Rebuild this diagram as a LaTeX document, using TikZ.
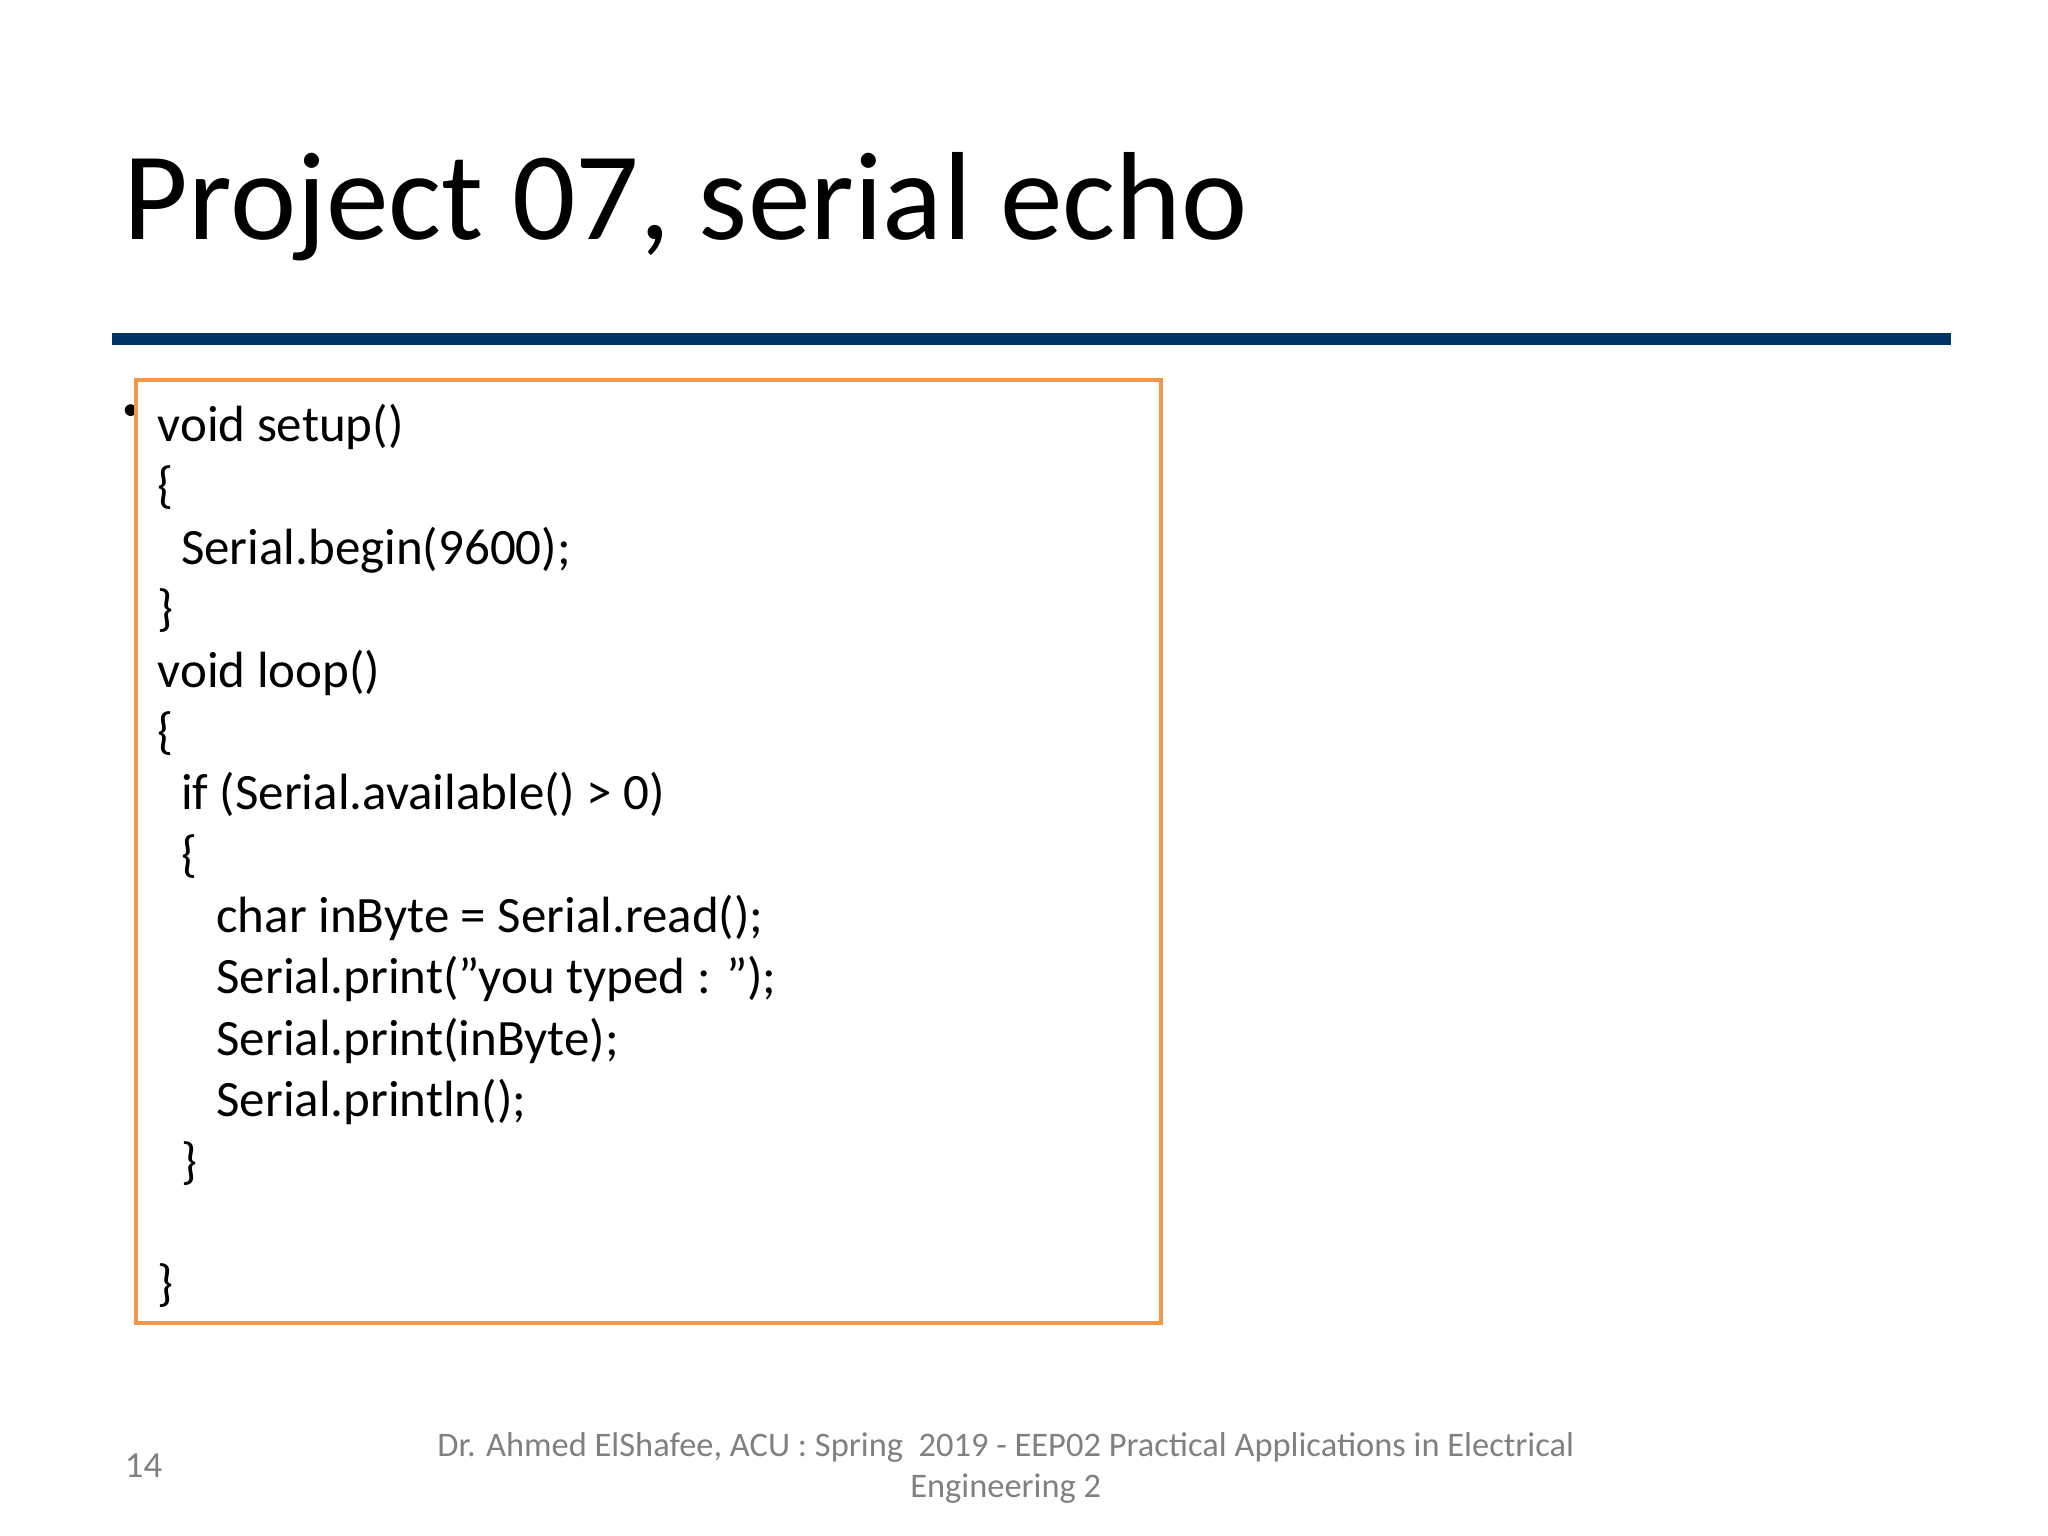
\documentclass[tikz,border=0pt]{standalone}
\usepackage{fontspec}
\setmainfont{Carlito}
\definecolor{barblue}{RGB}{0,51,102}
\definecolor{boxorange}{RGB}{245,150,70}
\definecolor{footgray}{RGB}{128,128,128}
\newcommand{\dq}{\symbol{34}}
\begin{document}
\begin{tikzpicture}[x=0.01cm,y=-0.01cm,
  code/.style={anchor=base west,inner sep=0pt,font=\fontsize{11.1pt}{13.4pt}\selectfont}]
\useasboundingbox (0,0) rectangle (1568,1176);
\node[anchor=base west,inner sep=0pt,font=\fontsize{27.3pt}{32pt}\selectfont] (title) at (94,183) {Project 07, serial echo};
\fill[barblue] (86,255) rectangle (1494,264);
\fill (100,314) circle (4.5);
\draw[boxorange,line width=0.03cm,fill=white] (104,291) rectangle (889,1013);
\node[code] (l1) at (120,338) {void setup()};
\node[code] (l2) at (120,385) {\{};
\node[code] (l3) at (138,432) {Serial.begin(9600);};
\node[code] (l4) at (120,479) {\}};
\node[code] (l5) at (120,526) {void loop()};
\node[code] (l6) at (120,573) {\{};
\node[code] (l7) at (138,620) {if (Serial.available() > 0)};
\node[code] (l8) at (138,667) {\{};
\node[code] (l9) at (165,714) {char inByte = Serial.read();};
\node[code] (l10) at (165,761) {Serial.print(\dq you typed : \dq);};
\node[code] (l11) at (165,808) {Serial.print(inByte);};
\node[code] (l12) at (165,855) {Serial.println();};
\node[code] (l13) at (138,902) {\}};
\node[code] (l14) at (120,996) {\}};
\node[anchor=base west,inner sep=0pt,text=footgray,font=\fontsize{8pt}{10pt}\selectfont] (num) at (95,1131) {14};
\node[inner sep=0pt,text=footgray,align=center,font=\fontsize{7.5pt}{9.1pt}\selectfont] (foot) at (770,1124) {Dr. Ahmed ElShafee, ACU : Spring\ \ 2019 - EEP02 Practical Applications in Electrical\\Engineering 2};
\end{tikzpicture}
\end{document}
